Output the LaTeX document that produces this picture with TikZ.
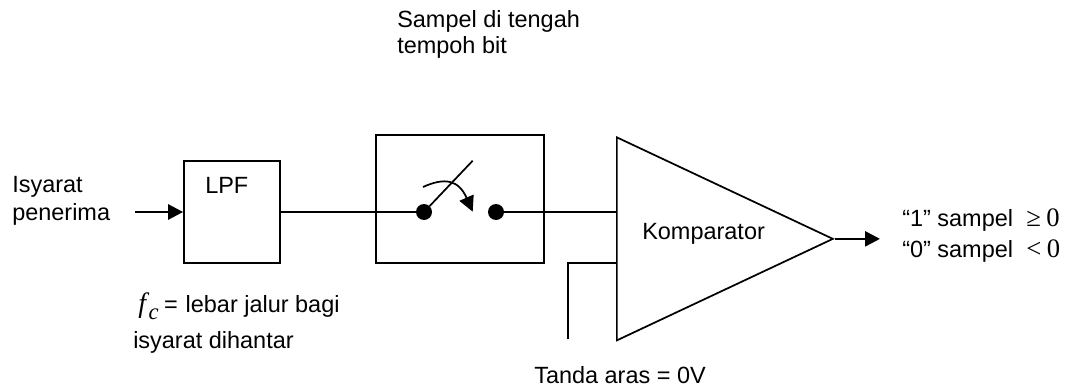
\documentclass[tikz,border=0pt]{standalone}
\usepackage{fontspec}
\setmainfont{Liberation Sans}
\newfontfamily\symfont{Liberation Serif}
\usetikzlibrary{shapes, arrows.meta, positioning}
\begin{document}
\begin{tikzpicture}[x=0.75pt, y=-0.75pt, font=\fontsize{17.6}{20}\selectfont,
        block/.style={rectangle, draw, line width=1.3pt, inner sep=0pt},
        wire/.style={line width=2pt},
        thin wire/.style={line width=1.3pt},
        flow/.style={wire, -{Triangle[length=11.25pt, width=11.25pt]}},
        contact/.style={circle, fill=black, inner sep=0pt, minimum size=12pt},
        txt/.style={align=left, inner sep=0pt, anchor=base west}]
        \useasboundingbox (0,0) rectangle (1072,389);
        % Blocks
        \node[block, minimum width=72pt, minimum height=76.5pt] (lpf) at (232,212) {};
        \node[block, minimum width=126pt, minimum height=96pt, right of=lpf, node distance=171pt, yshift=9.75pt] (switch) {};
        \node[isosceles triangle, draw, line width=1.3pt, isosceles triangle stretches, inner sep=0pt, minimum width=152.25pt, minimum height=162pt, anchor=left corner] (comp) at (616,136) {};
        \node[txt] (komp) at (642,239) {Komparator};
        \node[txt] (lpflabel) at (205,193) {LPF};

        % Switch
        \node[contact] (ca) at (424,212) {};
        \node[contact] (cb) at (496,212) {};
        \coordinate (lever) at (472.7,160.7);
        \coordinate (handle) at (423,187);
        \coordinate (swing) at (472.7,211.7);

        % Free ends
        \coordinate (in) at (135,212);
        \coordinate (out) at (880,237.5);
        \coordinate (reftop) at (568,263);
        \coordinate (refend) at (568,339);

        % Labels
        \node[txt] (top) at (397,27) {Sampel di tengah};
        \node[txt] (top2) at (397,53) {tempoh bit};
        \node[txt] (isyarat) at (12,192) {Isyarat};
        \node[txt] (penerima) at (12,220) {penerima};
        \node[txt] (fc) at (138,312) {{\symfont\itshape\fontsize{21}{21}\selectfont f\hspace{2pt}\raisebox{-0.25em}{\fontsize{17}{17}\selectfont c}}\hspace{4pt}=\hspace{1pt} lebar jalur bagi};
        \node[txt] (dihantar) at (133,348) {isyarat dihantar};
        \node[txt] (tanda) at (534,383) {Tanda aras = 0V};
        \node[txt] (one) at (902,226) {“1” sampel\hspace{10pt}{\symfont\fontsize{20}{20}\selectfont ≥\hspace{4pt}0}};
        \node[txt] (zero) at (902,257) {“0” sampel\hspace{10pt}{\symfont\fontsize{20}{20}\selectfont <\hspace{4pt}0}};

        % Connections
        \draw[flow] (in) -- (lpf.west |- in);
        \draw[wire] (lpf.east |- ca) -- (ca);
        \draw[wire] (cb) -- (cb -| comp.left corner);
        \draw[thin wire] (ca) -- (lever);
        \draw[thin wire, -{Triangle[length=11.5pt, width=11.4pt]}] (handle) .. controls (445,177) and (458.7,180) .. (swing);
        \draw[thin wire] (refend) -- (reftop) -- (reftop -| comp.left corner);
        \draw[flow] (comp.apex) -- (comp.apex -| out);
\end{tikzpicture}
\end{document}
